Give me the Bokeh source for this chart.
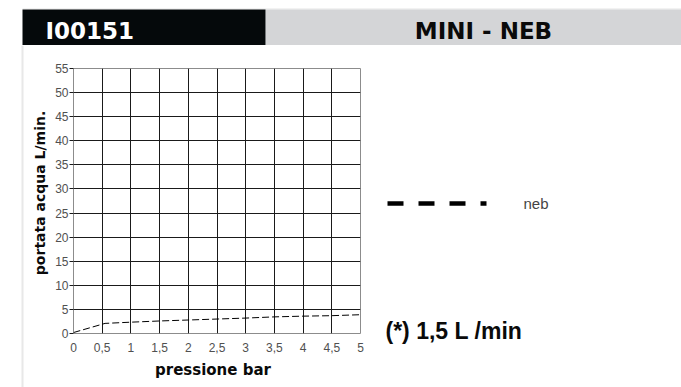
import math
from bokeh.plotting import figure
from bokeh.layouts import column, row
from bokeh.models import Range1d, FixedTicker
from bokeh.core.properties import value
from bokeh.embed import file_html
from bokeh.resources import INLINE

# ---- data ----
code_text = "I00151"
model_text = "MINI - NEB"
series_name = "neb"
note_text = "(*) 1,5 L /min"
x_title = "pressione bar"
y_title = "portata acqua  L/min."

pressure = [0, 0.55, 1, 1.5, 2, 2.5, 3, 3.5, 4, 4.5, 5]
flow = [0.2, 2.1, 2.35, 2.6, 2.8, 3.0, 3.2, 3.45, 3.6, 3.7, 3.9]

x_ticks = [0, 0.5, 1, 1.5, 2, 2.5, 3, 3.5, 4, 4.5, 5]
x_tick_labels = ["0", "0,5", "1", "1,5", "2", "2,5", "3", "3,5", "4", "4,5", "5"]
y_ticks = [0, 5, 10, 15, 20, 25, 30, 35, 40, 45, 50, 55]

W, H = 681, 387
HEADER_H = 45
BODY_H = H - HEADER_H
LEFT_W = 50
MAIN_W = 320
RIGHT_W = W - LEFT_W - MAIN_W
MAIN_H = 312
XT_H = BODY_H - MAIN_H
RX = LEFT_W + MAIN_W  # page x where the right panel starts


def canvas(w, h):
    """A plain figure whose frame is the whole canvas, pixel coordinates, y down."""
    f = figure(width=w, height=h, output_backend="svg", toolbar_location=None,
               x_range=Range1d(0, w), y_range=Range1d(h, 0),
               x_axis_type=None, y_axis_type=None,
               min_border=0, min_border_left=0, min_border_right=0,
               min_border_top=0, min_border_bottom=0)
    f.outline_line_color = None
    f.xgrid.visible = False
    f.ygrid.visible = False
    f.background_fill_color = "white"
    f.border_fill_color = "white"
    return f


# ---- header ----
hdr = canvas(W, HEADER_H)
hdr.quad(left=[22], right=[W], top=[8], bottom=[9], fill_color="#e6e6e6", line_color=None)
hdr.quad(left=[265], right=[W], top=[9], bottom=[45], fill_color="#d4d5d7", line_color=None)
hdr.quad(left=[22], right=[265], top=[9], bottom=[45], fill_color="#05090b", line_color=None)
hdr.text(x=[45], y=[30.5], text=[code_text], text_font=value("DejaVu Sans"),
         text_font_style="bold", text_font_size="23px", text_color="white",
         text_align="left", text_baseline="middle")
hdr.text(x=[483], y=[30.5], text=[model_text], text_font=value("DejaVu Sans"),
         text_font_style="bold", text_font_size="23px", text_color="#0a0a0a",
         text_align="center", text_baseline="middle")

# ---- left strip: page border line + y title ----
lft = canvas(LEFT_W, BODY_H)
lft.quad(left=[21], right=[23], top=[0], bottom=[BODY_H], fill_color="#e8e8e8", line_color=None)
lft.text(x=[39], y=[190 - HEADER_H], text=[y_title], text_font=value("DejaVu Sans"),
         text_font_style="bold", text_font_size="14px", text_color="#0a0a0a",
         angle=math.pi / 2, text_align="center", text_baseline="middle")

# ---- main chart ----
p = figure(width=MAIN_W, height=MAIN_H, output_backend="svg", toolbar_location=None,
           x_range=Range1d(0, 5), y_range=Range1d(0, 55),
           min_border_left=23, min_border_right=10,
           min_border_top=23, min_border_bottom=24)
p.background_fill_color = "white"
p.border_fill_color = "white"
p.outline_line_color = "#8c8c8c"
p.outline_line_width = 1

p.xgrid.ticker = FixedTicker(ticks=x_ticks[1:-1])
p.ygrid.ticker = FixedTicker(ticks=y_ticks[1:-1])
for g in (p.xgrid, p.ygrid):
    g.grid_line_color = "#1a1a1a"
    g.grid_line_width = 1
    g.grid_line_alpha = 1

p.xaxis.ticker = FixedTicker(ticks=x_ticks)
p.xaxis.major_label_overrides = {t: l for t, l in zip(x_ticks, x_tick_labels)}
p.yaxis.ticker = FixedTicker(ticks=y_ticks)
for ax in (p.xaxis, p.yaxis):
    ax.axis_line_color = None
    ax.minor_tick_line_color = None
    ax.major_tick_in = 0
    ax.major_label_text_font = "Liberation Sans"
    ax.major_label_text_font_size = "12px"
    ax.major_label_text_color = "#505050"
p.xaxis.major_tick_out = 0
p.xaxis.major_tick_line_color = None
p.xaxis.major_label_standoff = 9
p.yaxis.major_tick_out = 4
p.yaxis.major_tick_line_color = "#1a1a1a"
p.yaxis.major_label_standoff = 1

p.line(pressure, flow, line_color="black", line_width=1, line_dash="7 3")

# ---- x title strip ----
xt = canvas(MAIN_W, XT_H)
xt.text(x=[205.5 - LEFT_W], y=[369.5 - HEADER_H - MAIN_H], text=[x_title],
        text_font=value("DejaVu Sans"), text_font_style="bold", text_font_size="15px",
        text_color="#0a0a0a", text_align="center", text_baseline="middle")

# ---- right panel: legend key + note ----
rgt = canvas(RIGHT_W, BODY_H)
rgt.line(x=[387 - RX, 486 - RX], y=[203 - HEADER_H, 203 - HEADER_H],
         line_color="black", line_width=4.5, line_dash="16 15", line_cap="butt")
rgt.text(x=[523 - RX], y=[203 - HEADER_H], text=[series_name],
         text_font=value("Liberation Sans"), text_font_size="15px",
         text_color="#444444", text_align="left", text_baseline="middle")
rgt.text(x=[385 - RX], y=[330 - HEADER_H], text=[note_text],
         text_font=value("Liberation Sans"), text_font_style="bold",
         text_font_size="23px", text_color="#0a0a0a",
         text_align="left", text_baseline="middle")

layout = column(hdr, row(lft, column(p, xt), rgt))
open("out.html", "w").write(file_html(layout, INLINE))
